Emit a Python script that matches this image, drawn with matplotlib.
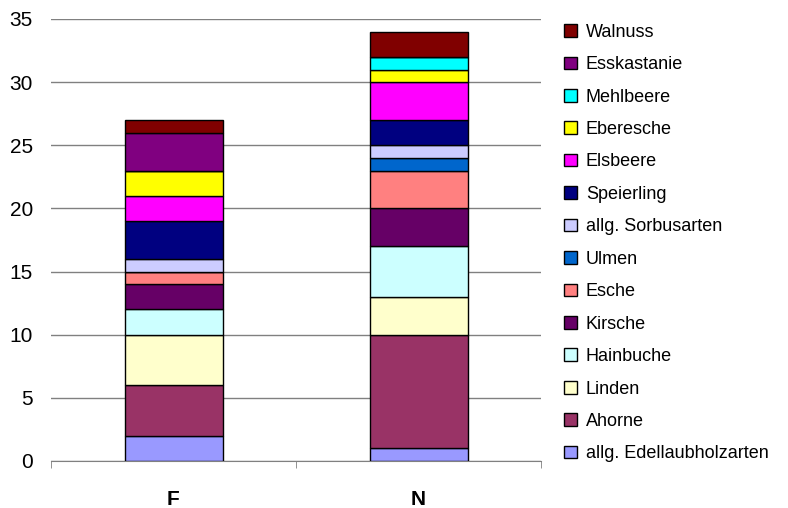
import matplotlib
matplotlib.use("Agg")
import matplotlib.pyplot as plt
import numpy as np

plt.rcParams['font.family'] = ['Liberation Sans', 'DejaVu Sans']

# data, bottom to top of the stack
groups = ['F', 'N']
species = ['allg. Edellaubholzarten', 'Ahorne', 'Linden', 'Hainbuche', 'Kirsche',
           'Esche', 'Ulmen', 'allg. Sorbusarten', 'Speierling', 'Elsbeere',
           'Eberesche', 'Mehlbeere', 'Esskastanie', 'Walnuss']
values_F = [2, 4, 4, 2, 2, 1, 0, 1, 3, 2, 2, 0, 3, 1]
values_N = [1, 9, 3, 4, 3, 3, 1, 1, 2, 3, 1, 1, 0, 2]
colours = ['#9999FF', '#993366', '#FFFFCC', '#CCFFFF', '#660066', '#FF8080',
           '#0066CC', '#CCCCFF', '#000080', '#FF00FF', '#FFFF00', '#00FFFF',
           '#800080', '#800000']

fig = plt.figure(figsize=(7.88, 5.08), dpi=100)
ax = fig.add_axes([51/788, 1-461/508, 490/788, 442/508])

x = np.arange(len(groups))
bottom = np.zeros(len(groups))
handles = []
for i, name in enumerate(species):
    vals = np.array([values_F[i], values_N[i]], dtype=float)
    b = ax.bar(x, vals, width=0.4, bottom=bottom, color=colours[i],
               edgecolor='black', linewidth=1.0, label=name, zorder=3)
    handles.append(b)
    bottom += vals

ax.set_xlim(-0.5, 1.5)
ax.set_ylim(0, 35)
ax.set_yticks(range(0, 36, 5))
ax.yaxis.grid(True, color='#808080', linewidth=1.0, zorder=0)
ax.set_axisbelow(True)
for s in ['top', 'right', 'left']:
    ax.spines[s].set_visible(False)
ax.spines['bottom'].set_color('#808080')
ax.tick_params(axis='y', length=0, labelsize=15, pad=13)
ax.set_xticks(x)
ax.set_xticklabels(groups, fontsize=15, fontweight='bold')
ax.tick_params(axis='x', length=0, pad=21)
# category separator ticks like Excel
ax.set_xticks([-0.5, 0.5, 1.5], minor=True)
ax.tick_params(axis='x', which='minor', length=5, color='#808080')

leg = fig.legend(handles[::-1], species[::-1], loc='upper left',
                 bbox_to_anchor=(557/788, 1-16.5/508), frameon=False,
                 fontsize=13, handlelength=0.7, handleheight=0.7,
                 handletextpad=0.5, labelspacing=0.855, borderaxespad=0)

plt.savefig("out.png", dpi=100)
